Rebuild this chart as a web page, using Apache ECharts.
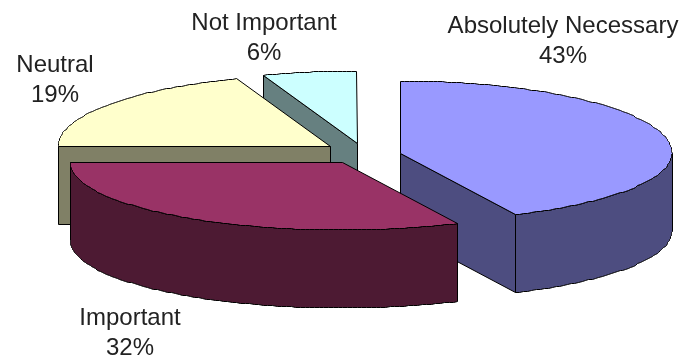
<!DOCTYPE html>
<html>
<head>
<meta charset="utf-8">
<style>html,body{margin:0;padding:0;background:#fff}#c{width:684px;height:360px}</style>
<script src="https://cdn.jsdelivr.net/npm/echarts@6/dist/echarts.min.js"></script>
</head>
<body>
<div id="c"></div>
<script>
// Data (slices run clockwise from 12 o'clock)
var categories = ['Absolutely Necessary', 'Important', 'Neutral', 'Not Important'];
var percents = [43, 32, 19.4, 5.6];

// Styles
var topColors = ['#9999FF', '#993366', '#FFFFCC', '#CCFFFF'];
var wallColors = ['#4D4D80', '#4D1A33', '#808066', '#668080'];

// Layout of the exploded 3D pie (the far half of the rim is slightly deeper: perspective)
var explodedCenters = [[400, 153], [342, 162], [330, 146.5], [357, 143]];
var paintRank = [2, 4, 3, 1];
var labelCenters = [[563, 41], [130, 333], [55, 80], [264, 38]];
var radiusX = 272, radiusYFar = 72, radiusYNear = 68, depth = 78;

var chart = echarts.init(document.getElementById('c'), null, {renderer: 'canvas'});

function snap(v) { return Math.round(v - 0.5) + 0.5; }

function renderSlice(params, api) {
  var i = api.value(0), value = api.value(1), before = 0;
  for (var k = 0; k < i; k++) before += percents[k];
  var a0 = before * 3.6, a1 = (before + value) * 3.6;
  var c = explodedCenters[i];
  function rim(deg, dz) {
    var r = deg * Math.PI / 180, cos = Math.cos(r);
    var ry = cos > 0 ? radiusYFar : radiusYNear;
    return [snap(c[0] + radiusX * Math.sin(r)), snap(c[1] - ry * cos + (dz || 0))];
  }
  var apex = [snap(c[0]), snap(c[1])], apexLow = [snap(c[0]), snap(c[1] + depth)];
  function poly(points, fill, z) {
    return {
      type: 'polygon', z2: paintRank[i] * 10 + z, silent: true,
      shape: {points: points},
      style: {fill: fill, stroke: '#000', lineWidth: 1, lineJoin: 'miter'}
    };
  }
  var children = [];
  function cutFace(deg, normalDeg) {
    if (Math.cos(normalDeg * Math.PI / 180) < -1e-6) {
      children.push(poly([apex, rim(deg), rim(deg, depth), apexLow], wallColors[i], 0));
    }
  }
  cutFace(a0, a0 - 90);
  cutFace(a1, a1 + 90);
  // outer wall: the part of the rim that faces the viewer
  var from = Math.max(a0, 90), to = Math.min(a1, 270);
  if (to > from) {
    var up = [], down = [];
    for (var d = from; d < to; d += 1) { up.push(rim(d)); down.unshift(rim(d, depth)); }
    up.push(rim(to)); down.unshift(rim(to, depth));
    children.push(poly(up.concat(down), wallColors[i], 1));
  }
  // top face
  var top = [apex];
  for (var t = a0; t < a1; t += 1) top.push(rim(t));
  top.push(rim(a1));
  children.push(poly(top, topColors[i], 2));
  return {type: 'group', children: children};
}

function renderLabel(params, api) {
  var i = api.value(0);
  return {
    type: 'text', silent: true, z2: 100,
    x: labelCenters[i][0], y: labelCenters[i][1],
    style: {
      text: categories[i] + '\n' + Math.round(api.value(1)) + '%',
      fill: '#222', font: '24px "Liberation Sans", Arial, sans-serif',
      lineHeight: 30, align: 'center', verticalAlign: 'middle'
    }
  };
}

var rows = categories.map(function (name, i) { return [i, percents[i]]; });

chart.setOption({
  backgroundColor: '#fff',
  animation: false,
  series: [
    {type: 'custom', coordinateSystem: 'none', renderItem: renderSlice, data: rows, silent: true, clip: false},
    {type: 'custom', coordinateSystem: 'none', renderItem: renderLabel, data: rows, silent: true, clip: false}
  ]
});
</script>
</body>
</html>
